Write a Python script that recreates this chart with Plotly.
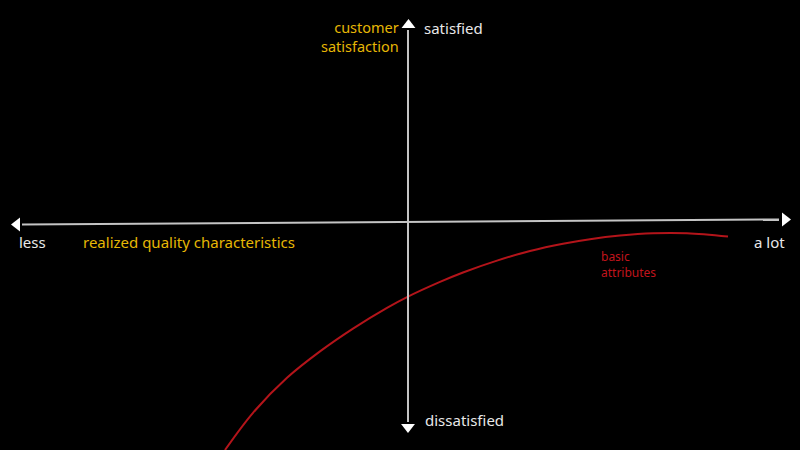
import plotly.graph_objects as go

# Kano "basic attributes" curve (canvas-like coordinates: x right, y down)
curve_x = [225, 253, 287, 320, 353, 387, 407, 440, 463, 497, 530, 563, 590, 620, 653, 687, 728]
curve_y = [450, 412.8, 377.8, 351.4, 328.6, 307.9, 297.1, 281.9, 272.5, 260.6, 251.0, 243.7, 239.2, 235.6, 233.3, 233.3, 236.6]

# axes of the diagram
h_axis_x = [22, 779]
h_axis_y = [224.5, 219.5]
v_axis_x = [408, 408]
v_axis_y = [30, 422]

GOLD = "#e6b705"
RED = "#c0141c"
WHITE = "#e8e8e8"
AXIS = "#c4c4c4"
FONT = "Noto Sans"

fig = go.Figure()

fig.add_trace(go.Scatter(x=curve_x, y=curve_y, mode="lines",
                         line=dict(color="#b3141a", width=2, shape="spline", smoothing=1.0),
                         hoverinfo="skip"))
fig.add_trace(go.Scatter(x=h_axis_x, y=h_axis_y, mode="lines",
                         line=dict(color=AXIS, width=2), hoverinfo="skip"))
fig.add_trace(go.Scatter(x=v_axis_x, y=v_axis_y, mode="lines",
                         line=dict(color=AXIS, width=2), hoverinfo="skip"))

# arrow heads
fig.add_trace(go.Scatter(
    x=[17, 785, 408.5, 408],
    y=[224.5, 219.5, 25, 427],
    mode="markers",
    marker=dict(symbol=["triangle-left", "triangle-right", "triangle-up", "triangle-down"],
                size=12, color="white", line=dict(width=0)),
    hoverinfo="skip"))

def label(x, y, text, color, size=15, xanchor="left"):
    fig.add_annotation(x=x, y=y, text=text, showarrow=False, xanchor=xanchor,
                       yanchor="middle", align=xanchor, borderpad=0,
                       font=dict(family=FONT, size=size, color=color))

label(400, 36.5, "customer<br>satisfaction", GOLD, 14.5, "right")
label(423, 28, "satisfied", WHITE)
label(18, 242, "less", WHITE)
label(82, 242, "realized quality characteristics", GOLD)
label(786, 242, "a lot", WHITE, 15, "right")
label(600, 264.5, "basic<br>attributes", RED, 12)
label(424, 420, "dissatisfied", WHITE)

fig.update_layout(
    width=800, height=450,
    margin=dict(l=0, r=0, t=0, b=0),
    paper_bgcolor="black", plot_bgcolor="black",
    showlegend=False,
    xaxis=dict(range=[0, 800], visible=False, fixedrange=True),
    yaxis=dict(range=[450, 0], visible=False, fixedrange=True),
)

fig.write_html("out.html",
               post_script="document.body.style.margin='0';document.body.style.background='black';",
               config={"displayModeBar": False})
